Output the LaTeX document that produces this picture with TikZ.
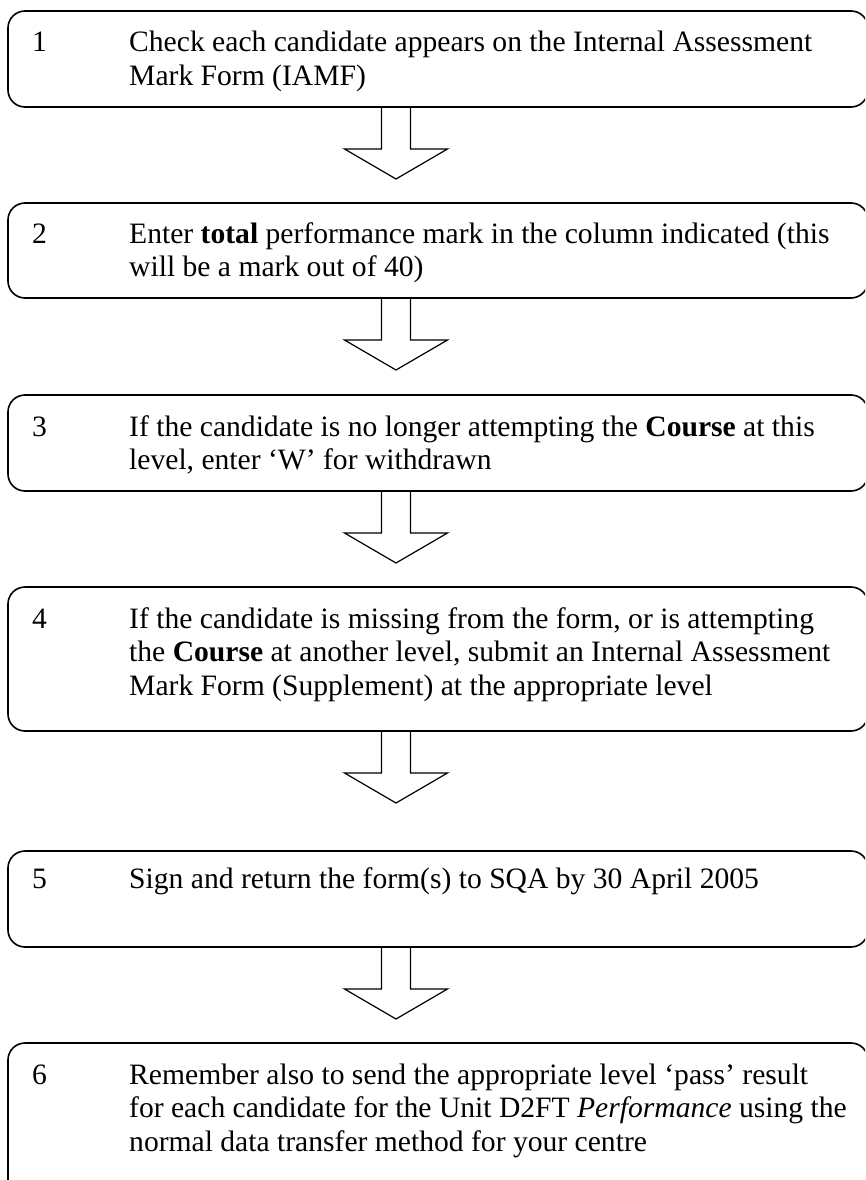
\documentclass[tikz,border=0pt]{standalone}
\usepackage{fontspec}
\setmainfont{Liberation Serif}
\usepackage{tikz}

\newcommand{\stepitem}[2]{%
  \begin{tabular}[t]{@{}p{97pt}@{}l@{}}#1 & #2\end{tabular}}

\begin{document}
\begin{tikzpicture}[
  x=1pt,
  y=-1pt,
  every node/.style={
    font=\fontsize{29.6}{33.5}\selectfont,
  },
  stepbox/.style={
    draw=black,
    line width=1.6pt,
    rounded corners=17pt,
    minimum width=860pt,
    anchor=north west,
    inner sep=0pt,
    outer sep=0pt,
  },
  stepitem/.style={
    anchor=base west,
    inner sep=0pt,
  },
  blockarrow/.pic={
    \draw[line width=1.2pt, line join=miter]
      (-14.5,0) -- (-14.5,42) -- (-51.5,42) -- (0,72)
      -- (51.5,42) -- (14.5,42) -- (14.5,0);
  }
]
\useasboundingbox (0,0) rectangle (865,1180);
\clip (0,0) rectangle (865,1180);
\coordinate (axis) at (396,0);

% the six steps
\node[stepbox, minimum height=96pt] (box1) at (8,11) {};
\node[stepbox, minimum height=95pt] (box2) at (8,203) {};
\node[stepbox, minimum height=96pt] (box3) at (8,395) {};
\node[stepbox, minimum height=144pt] (box4) at (8,587) {};
\node[stepbox, minimum height=96pt] (box5) at (8,851) {};
\node[stepbox, minimum height=180pt] (box6) at (8,1043) {};

\node[stepitem] (item1) at ([shift={(24,41)}]box1.north west)
  {\stepitem{1}{Check each candidate appears on the Internal Assessment\\
  & Mark Form (IAMF)}};
\node[stepitem] (item2) at ([shift={(24,40)}]box2.north west)
  {\stepitem{2}{Enter \textbf{total} performance mark in the column indicated (this\\
  & will be a mark out of 40)}};
\node[stepitem] (item3) at ([shift={(24,41)}]box3.north west)
  {\stepitem{3}{If the candidate is no longer attempting the \textbf{Course} at this\\
  & level, enter ‘W’ for withdrawn}};
\node[stepitem] (item4) at ([shift={(24,41)}]box4.north west)
  {\stepitem{4}{If the candidate is missing from the form, or is attempting\\
  & the \textbf{Course} at another level, submit an Internal Assessment\\
  & Mark Form (Supplement) at the appropriate level}};
\node[stepitem] (item5) at ([shift={(24,37)}]box5.north west)
  {\stepitem{5}{Sign and return the form(s) to SQA by 30 April 2005}};
\node[stepitem] (item6) at ([shift={(24,41)}]box6.north west)
  {\stepitem{6}{Remember also to send the appropriate level ‘pass’ result\\
  & for each candidate for the Unit D2FT \textit{Performance} using the\\
  & normal data transfer method for your centre}};

% arrows between the steps
\pic at (box1.south -| axis) {blockarrow};
\pic at (box2.south -| axis) {blockarrow};
\pic at (box3.south -| axis) {blockarrow};
\pic at (box4.south -| axis) {blockarrow};
\pic at (box5.south -| axis) {blockarrow};
\end{tikzpicture}
\end{document}
